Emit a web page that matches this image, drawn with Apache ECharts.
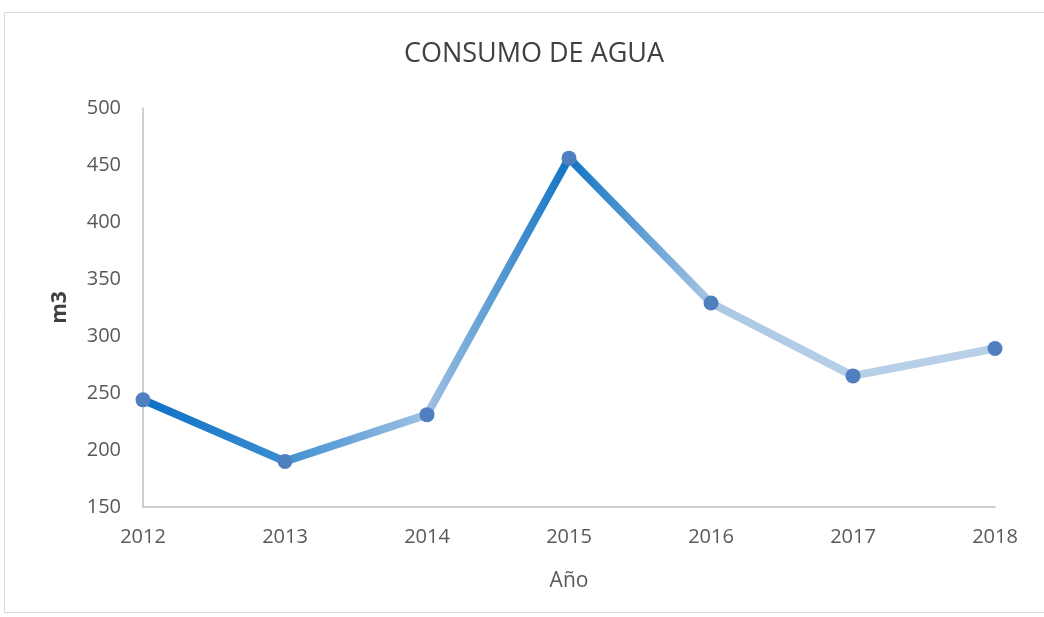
<!DOCTYPE html>
<html>
<head>
<meta charset="utf-8">
<script src="https://cdn.jsdelivr.net/npm/echarts@6/dist/echarts.min.js"></script>
<style>
  html, body { margin: 0; padding: 0; background: #fff; }
  #main { width: 1044px; height: 617px; }
</style>
</head>
<body>
<div id="main"></div>
<script>
// datos
var anios = ["2012", "2013", "2014", "2015", "2016", "2017", "2018"];
var consumo = [244, 190, 231, 456, 329, 265, 289];
// color de la línea en cada año (degradado)
var coloresLinea = ["#0b6fc3", "#3d8fd2", "#a3c2e3", "#0e72c4", "#adc7e4", "#b7cee7", "#b9d0e8"];

var myChart = echarts.init(document.getElementById("main"));

var fuente = "Open Sans";

// un tramo por cada par de años, con degradado de un color al otro
var tramos = [];
for (var i = 0; i < consumo.length - 1; i++) {
  var datos = consumo.map(function (v, j) { return (j === i || j === i + 1) ? v : null; });
  tramos.push({
    type: "line",
    data: datos,
    symbol: "none",
    connectNulls: false,
    silent: true,
    z: 2,
    lineStyle: {
      width: 8,
      cap: "round",
      color: new echarts.graphic.LinearGradient(0, 0, 1, 0, [
        { offset: 0, color: coloresLinea[i] },
        { offset: 1, color: coloresLinea[i + 1] }
      ])
    }
  });
}

var option = {
  backgroundColor: "#fff",
  title: {
    text: "CONSUMO DE AGUA",
    left: 529,
    textAlign: "center",
    top: 36,
    textStyle: { fontFamily: fuente, fontSize: 27, fontWeight: "normal", color: "#404040" }
  },
  graphic: [{
    type: "rect",
    shape: { x: 4.5, y: 12.5, width: 1060, height: 600 },
    style: { fill: null, stroke: "#d9d9d9", lineWidth: 1 },
    silent: true
  }],
  grid: { left: 143, right: 49, top: 108, bottom: 110 },
  xAxis: {
    type: "category",
    data: anios,
    boundaryGap: false,
    name: "Año",
    nameLocation: "middle",
    nameGap: 64,
    nameTextStyle: { fontFamily: fuente, fontSize: 21, color: "#595959" },
    axisLine: { lineStyle: { color: "#bfbfbf", width: 1.5 } },
    axisTick: { show: false },
    axisLabel: { fontFamily: fuente, fontSize: 20, color: "#595959", margin: 20 }
  },
  yAxis: {
    type: "value",
    min: 150,
    max: 500,
    interval: 50,
    name: "m3",
    nameLocation: "middle",
    nameGap: 72,
    nameTextStyle: { fontFamily: fuente, fontSize: 21, color: "#404040", fontWeight: "bold" },
    axisLine: { show: true, lineStyle: { color: "#bfbfbf", width: 1.5 } },
    axisTick: { show: false },
    splitLine: { show: false },
    axisLabel: { fontFamily: fuente, fontSize: 20, color: "#595959", margin: 22 }
  },
  series: tramos.concat([
    {
      name: "puntos",
      type: "line",
      data: consumo,
      symbol: "circle",
      symbolSize: 15,
      showAllSymbol: true,
      lineStyle: { width: 0, opacity: 0 },
      itemStyle: { color: "#4f7fbf", borderWidth: 0 },
      silent: true,
      z: 3
    }
  ])
};

myChart.setOption(option);
</script>
</body>
</html>
